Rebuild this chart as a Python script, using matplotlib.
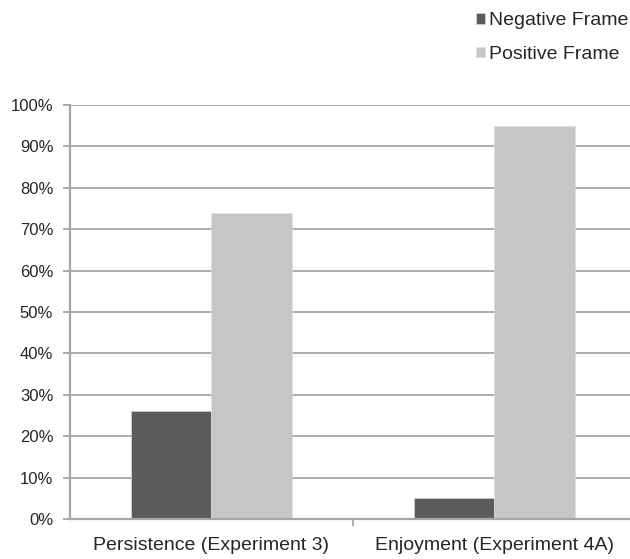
import matplotlib
matplotlib.use('Agg')
import matplotlib.pyplot as plt
from matplotlib.ticker import PercentFormatter, FixedLocator
import numpy as np

categories = ['Persistence (Experiment 3)', 'Enjoyment (Experiment 4A)']
negative = [26, 5]
positive = [74, 95]
series_labels = ['Negative Frame', 'Positive Frame']

plt.rcParams['font.family'] = ['Liberation Sans', 'DejaVu Sans']

fig = plt.figure(figsize=(6.3, 5.59), dpi=100)
ax = fig.add_axes([0.111, 0.0716, 1.0095 - 0.111, 0.812 - 0.0716])

x = np.arange(len(categories))
w = 0.285
grid_c = '#a6a6a6'
b1 = ax.bar(x - w / 2, negative, w, color='#5b5b5d', edgecolor='#e0e0e0', linewidth=0.4, zorder=3,
            label=series_labels[0])
b2 = ax.bar(x + w / 2, positive, w, color='#c5c6c8', edgecolor='#e0e0e0', linewidth=0.4, zorder=3,
            label=series_labels[1])

ax.set_ylim(0, 100)
ax.set_xlim(-0.5, 1.5)
ax.set_yticks(np.arange(0, 101, 10))
ax.yaxis.set_major_formatter(PercentFormatter(decimals=0))
ax.grid(axis='y', color=grid_c, linewidth=1.3, zorder=0)

ax.set_xticks(x)
ax.set_xticklabels(categories)
ax.xaxis.set_minor_locator(FixedLocator([0.5]))
ax.tick_params(axis='x', which='major', length=0, pad=13, labelsize=14, labelcolor='#262626')
ax.tick_params(axis='x', which='minor', length=5, width=1.3, color=grid_c)
ax.tick_params(axis='y', length=5, width=1.3, color=grid_c, pad=7, labelsize=12, labelcolor='#262626')

for s in ['top', 'right']:
    ax.spines[s].set_visible(False)
for s in ['left', 'bottom']:
    ax.spines[s].set_color(grid_c)
    ax.spines[s].set_linewidth(1.6)
ax.spines['bottom'].set_zorder(4)

fig.legend(handles=[b1, b2], loc='upper left', bbox_to_anchor=(0.7556, 0.978), frameon=False,
           borderpad=0, borderaxespad=0,
           fontsize=14, handlelength=0.46, handleheight=0.46, handletextpad=0.2, labelspacing=0.85,
           labelcolor='#262626')

fig.savefig('out.png', dpi=100)
